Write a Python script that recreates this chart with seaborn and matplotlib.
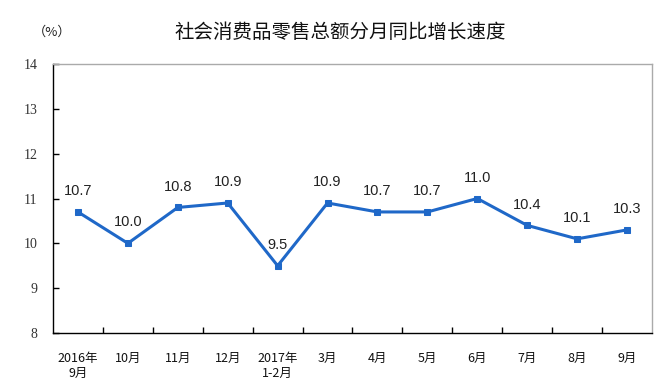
import matplotlib
matplotlib.use("Agg")
import matplotlib.pyplot as plt
import seaborn as sns
import pandas as pd

categories = ["2016年\n9月", "10月", "11月", "12月", "2017年\n1-2月", "3月", "4月", "5月", "6月", "7月", "8月", "9月"]
values = [10.7, 10.0, 10.8, 10.9, 9.5, 10.9, 10.7, 10.7, 11.0, 10.4, 10.1, 10.3]
yticks = [8, 9, 10, 11, 12, 13, 14]
title = "社会消费品零售总额分月同比增长速度"
unit = "（%）"

sns.set_theme(style="white")
plt.rcParams['font.family'] = ['Noto Sans CJK SC', 'DejaVu Sans']

df = pd.DataFrame({"x": range(len(categories)), "v": values})

fig = plt.figure(figsize=(6.71, 3.85), dpi=100)
ax = fig.add_axes([53/671, 1 - 333/385, (652-53)/671, (333-64)/385])
color = "#1f68c8"
sns.lineplot(data=df, x="x", y="v", ax=ax, color=color, linewidth=2.2,
             marker="s", markersize=5, markeredgecolor=color, markerfacecolor=color)

for i, v in enumerate(values):
    ax.annotate(f"{v:.1f}", (i, v), xytext=(0, 10), textcoords="offset points",
                ha="center", va="bottom", fontsize=10.5, color="#222222",
                family=['Liberation Sans', 'DejaVu Sans'])

ax.set_xlim(-0.5, len(categories) - 0.5)
ax.set_ylim(8, 14)
ax.set_yticks(yticks)
ax.set_yticklabels([str(t) for t in yticks], fontsize=10, color="#333333",
                   family=['Liberation Serif', 'DejaVu Serif'])
ax.set_xticks([i + 0.5 for i in range(len(categories) - 1)])
ax.set_xticklabels([])
for i, c in enumerate(categories):
    ax.text(i, -0.07, c, transform=ax.get_xaxis_transform(), ha="center", va="top",
            fontsize=9, linespacing=1.25, color="#111111")
ax.tick_params(axis="x", direction="in", length=4, width=1, color="black", bottom=True)
ax.tick_params(axis="y", direction="in", length=4, width=1, color="black", left=True, pad=11)
ax.set_xlabel("")
ax.set_ylabel("")

for s in ["left", "bottom"]:
    ax.spines[s].set_color("black")
    ax.spines[s].set_linewidth(1)
for s in ["top", "right"]:
    ax.spines[s].set_color("#aaaaaa")
    ax.spines[s].set_linewidth(1)

fig.text(340/671, 1 - 32/385, title, ha="center", va="center", fontsize=14, color="#111111")
fig.text(33/671, 1 - 32/385, unit, ha="left", va="center", fontsize=9.5, color="#222222")

fig.savefig("out.png", dpi=100)
